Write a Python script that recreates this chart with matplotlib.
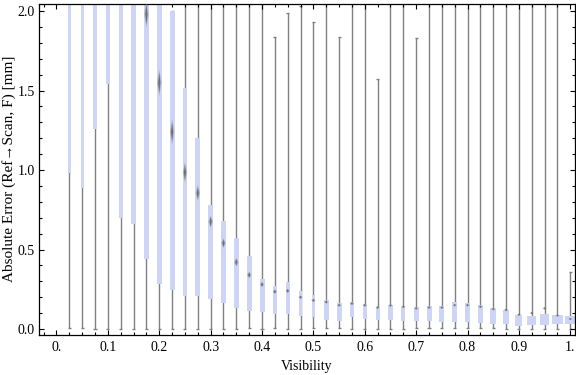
import numpy as np
import matplotlib
matplotlib.use('Agg')
import matplotlib.pyplot as plt
from matplotlib.ticker import MultipleLocator, FixedLocator

plt.rcParams['font.family'] = ['Liberation Serif', 'DejaVu Serif']

# visibility bins
visibility = [0.025, 0.05, 0.075, 0.1, 0.125, 0.15, 0.175, 0.2, 0.225, 0.25,
              0.275, 0.3, 0.325, 0.35, 0.375, 0.4, 0.425, 0.45, 0.475, 0.5,
              0.525, 0.55, 0.575, 0.6, 0.625, 0.65, 0.675, 0.7, 0.725, 0.75,
              0.775, 0.8, 0.825, 0.85, 0.875, 0.9, 0.925, 0.95, 0.975, 1.0]

# whisker min / max
err_min = [0.004, 0.004, 0.003, 0.003, 0.003, 0.003, 0.003, 0.0, 0.003, 0.003,
           0.003, 0.002, 0.0, 0.003, 0.008, 0.0, 0.006, 0.003, 0.0, 0.004,
           0.004, 0.004, 0.003, 0.003, 0.0, 0.003, 0.003, 0.004, 0.004, 0.004,
           0.004, 0.004, 0.004, 0.004, 0.003, 0.0, 0.002, 0.002, 0.002, 0.002]
err_max = [3.0, 3.0, 3.0, 3.0, 3.0, 3.0, 3.0, 3.0, 2.0, 3.0,
           3.0, 3.0, 3.0, 3.0, 3.0, 3.0, 1.84, 1.99, 2.03, 1.93,
           3.0, 1.84, 3.0, 3.0, 1.57, 3.0, 3.0, 1.83, 3.0, 3.0,
           3.0, 3.0, 3.0, 3.0, 3.0, 3.0, 3.0, 3.0, 3.0, 0.36]

# quartiles
q1 = [0.98, 0.89, 1.26, 1.54, 0.70, 0.66, 0.44, 0.28, 0.245, 0.21,
      0.21, 0.19, 0.165, 0.13, 0.115, 0.105, 0.095, 0.095, 0.08, 0.077,
      0.058, 0.052, 0.075, 0.065, 0.058, 0.058, 0.052, 0.052, 0.052, 0.045,
      0.045, 0.045, 0.04, 0.033, 0.033, 0.02, 0.025, 0.025, 0.032, 0.032]
q3 = [2.5, 2.5, 2.5, 2.5, 2.5, 2.5, 2.5, 2.5, 2.0, 1.515,
      1.20, 0.78, 0.68, 0.57, 0.46, 0.315, 0.27, 0.295, 0.24, 0.215,
      0.185, 0.165, 0.17, 0.157, 0.14, 0.148, 0.14, 0.14, 0.145, 0.145,
      0.17, 0.165, 0.15, 0.13, 0.12, 0.088, 0.082, 0.095, 0.088, 0.082]

# mean and its uncertainty (marker half height)
mean = [2.3, 2.3, 2.3, 2.3, 2.2, 2.2, 1.98, 1.55, 1.24, 0.985,
        0.855, 0.675, 0.54, 0.42, 0.34, 0.28, 0.235, 0.24, 0.20, 0.18,
        0.17, 0.15, 0.16, 0.15, 0.135, 0.148, 0.14, 0.13, 0.135, 0.135,
        0.15, 0.15, 0.14, 0.125, 0.12, 0.09, 0.10, 0.13, 0.085, 0.063]
mean_err = [0.09, 0.09, 0.09, 0.09, 0.09, 0.09, 0.085, 0.085, 0.08, 0.065,
            0.05, 0.04, 0.032, 0.028, 0.022, 0.018, 0.015, 0.015, 0.012, 0.012,
            0.012, 0.011, 0.011, 0.011, 0.01, 0.01, 0.01, 0.01, 0.01, 0.01,
            0.01, 0.01, 0.01, 0.01, 0.01, 0.009, 0.009, 0.009, 0.009, 0.008]

# relative box width (sample size)
rel_width = [0.66, 0.66, 0.74, 0.8, 0.86, 0.86, 1.0, 0.94, 1.0, 0.94,
             1.0, 1.0, 0.94, 1.0, 1.0, 1.0, 0.94, 0.8, 0.74, 0.74,
             1.0, 1.0, 0.8, 0.8, 0.8, 0.86, 0.86, 0.94, 1.0, 1.0,
             1.06, 1.0, 1.14, 1.14, 1.2, 1.4, 1.8, 1.74, 2.2, 2.0]

xticks = [0.0, 0.1, 0.2, 0.3, 0.4, 0.5, 0.6, 0.7, 0.8, 0.9, 1.0]
xticklabels = ['0.', '0.1', '0.2', '0.3', '0.4', '0.5', '0.6', '0.7', '0.8', '0.9', '1.']
yticks = [0.0, 0.5, 1.0, 1.5, 2.0]
yticklabels = ['0.0', '0.5', '1.0', '1.5', '2.0']

x = np.array(visibility)
w = np.array(rel_width) * 0.0098

fig = plt.figure(figsize=(5.76, 3.75), dpi=100)
ax = fig.add_axes([0.0682, 0.108, 0.9298, 0.881])

# whiskers + caps
ax.vlines(x, err_min, err_max, color='#808080', lw=1.0, zorder=1)
ax.hlines(err_min, x - 0.003, x + 0.003, color='#808080', lw=1.0, zorder=1)
ax.hlines(err_max, x - 0.003, x + 0.003, color='#808080', lw=1.0, zorder=1)

# boxes
ax.bar(x, np.array(q3) - np.array(q1), bottom=q1, width=w,
       color='#cdd4f6', edgecolor='none', zorder=2)

# mean markers (blurry diamonds)
for xi, m, h in zip(x, mean, mean_err):
    ax.fill([xi, xi + 0.0045, xi, xi - 0.0045], [m + h, m, m - h, m],
            color='#909090', alpha=0.45, lw=0, zorder=3)
    ax.fill([xi, xi + 0.0022, xi, xi - 0.0022], [m + h * 0.75, m, m - h * 0.75, m],
            color='#555555', alpha=0.7, lw=0, zorder=3)

ax.set_xlim(-0.0335, 1.0088)
ax.set_ylim(-0.0346, 2.044)

ax.xaxis.set_major_locator(FixedLocator(xticks))
ax.set_xticklabels(xticklabels)
ax.xaxis.set_minor_locator(MultipleLocator(0.025))
ax.yaxis.set_major_locator(FixedLocator(yticks))
ax.set_yticklabels(yticklabels)
ax.yaxis.set_minor_locator(MultipleLocator(0.1))

ax.tick_params(which='both', direction='in', top=True, right=True,
               labelsize=10, width=0.8, color='black')
ax.tick_params(which='major', length=3.3)
ax.tick_params(which='minor', length=2.2)
ax.tick_params(axis='x', pad=5)
ax.tick_params(axis='y', pad=3)

for s in ax.spines.values():
    s.set_linewidth(0.9)

ax.set_xlabel('Visibility', fontsize=10, labelpad=4)
ax.set_ylabel('Absolute Error (Ref\u2192Scan, F) [mm]', fontsize=11)
ax.yaxis.set_label_coords(-0.043, 0.5)

fig.savefig('out.png', dpi=100)
